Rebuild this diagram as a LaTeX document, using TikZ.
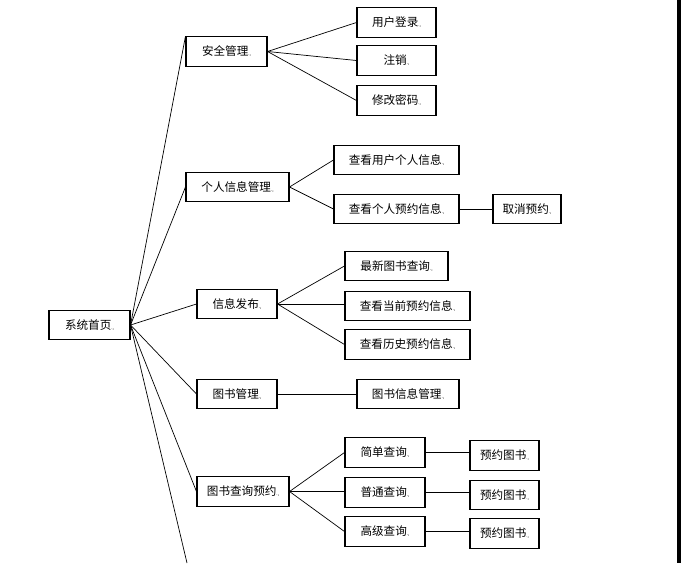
\documentclass[tikz,border=0pt]{standalone}
\usepackage{fontspec}
\setmainfont{Noto Sans CJK SC}
\usepackage{tikz}
\usetikzlibrary{positioning}
\newcommand{\pmk}{{\fontsize{4pt}{4pt}\selectfont.,}}
\tikzset{
  box/.style={draw, line width=0.9pt, fill=white, align=center,
              minimum height=0.88cm, inner sep=2pt,
              font=\fontsize{9.9pt}{11pt}\selectfont},
  link/.style={draw, line width=0.6pt}
}
\begin{document}
\begin{tikzpicture}[x=0.03cm, y=-0.03cm]
  \useasboundingbox (0,0) rectangle (681,563);
  % right page edge
  \draw[line width=3.4pt] (679,0) -- (679,563);

  \node[box, minimum width=2.43cm] (home) at (89.5,325) {系统首页\pmk};

  \node[box, minimum width=2.43cm] (sec) at (226.5,51.5) {安全管理\pmk};
  \node[box, minimum width=2.37cm] (login) at (396.5,22.5) {用户登录\pmk};
  \node[box, minimum width=2.37cm] (logout) at (396.5,60.5) {注销\pmk};
  \node[box, minimum width=2.37cm] (passwd) at (396.5,100.5) {修改密码\pmk};

  \node[box, minimum width=3.09cm] (info) at (237.5,187) {个人信息管理\pmk};
  \node[box, minimum width=3.75cm] (userinfo) at (396.5,160) {查看用户个人信息\pmk};
  \node[box, minimum width=3.75cm] (myres) at (396.5,209) {查看个人预约信息\pmk};
  \node[box, minimum width=2.04cm] (cancel) at (527,209) {取消预约\pmk};

  \node[box, minimum width=2.4cm] (pub) at (237,304) {信息发布\pmk};
  \node[box, minimum width=3.09cm] (newbook) at (396.5,266) {最新图书查询\pmk};
  \node[box, minimum width=3.75cm] (curres) at (407.5,306) {查看当前预约信息\pmk};
  \node[box, minimum width=3.75cm] (oldres) at (407.5,344.5) {查看历史预约信息\pmk};

  \node[box, minimum width=2.4cm] (books) at (237,394) {图书管理\pmk};
  \node[box, minimum width=3.06cm] (bookinfo) at (408,394) {图书信息管理\pmk};

  \node[box, minimum width=2.76cm] (query) at (243,491.5) {图书查询预约\pmk};
  \node[box, minimum width=2.4cm] (simple) at (385,452.5) {简单查询\pmk};
  \node[box, minimum width=2.4cm] (normal) at (385,492.5) {普通查询\pmk};
  \node[box, minimum width=2.4cm] (adv) at (385,531.5) {高级查询\pmk};
  \node[box, minimum width=2.07cm] (resA) at (504.5,455.5) {预约图书\pmk};
  \node[box, minimum width=2.07cm] (resB) at (504.5,495) {预约图书\pmk};
  \node[box, minimum width=2.07cm] (resC) at (504.5,533.5) {预约图书\pmk};

  \coordinate (more) at (187,563);

  % trunk
  \draw[link] (home.east) -- (sec.north west);
  \draw[link] (home.east) -- (info.west);
  \draw[link] (home.east) -- (pub.west);
  \draw[link] (home.east) -- (books.west);
  \draw[link] (home.east) -- (query.west);
  \draw[link] (home.east) -- (more);

  % branches
  \draw[link] (sec.east) -- (login.west);
  \draw[link] (sec.east) -- (logout.west);
  \draw[link] (sec.east) -- (passwd.west);
  \draw[link] (info.east) -- (userinfo.west);
  \draw[link] (info.east) -- (myres.west);
  \draw[link] (myres) -- (cancel);
  \draw[link] (pub.east) -- (newbook.west);
  \draw[link] (pub.east) -- (pub.east -| curres.west);
  \draw[link] (pub.east) -- (oldres.west);
  \draw[link] (books) -- (bookinfo);
  \draw[link] (query.east) -- (simple.west);
  \draw[link] (query.east) -- (query.east -| normal.west);
  \draw[link] (query.east) -- (adv.west);
  \draw[link] (simple.east) -- (simple.east -| resA.west);
  \draw[link] (normal.east) -- (normal.east -| resB.west);
  \draw[link] (adv.east) -- (adv.east -| resC.west);
\end{tikzpicture}
\end{document}
